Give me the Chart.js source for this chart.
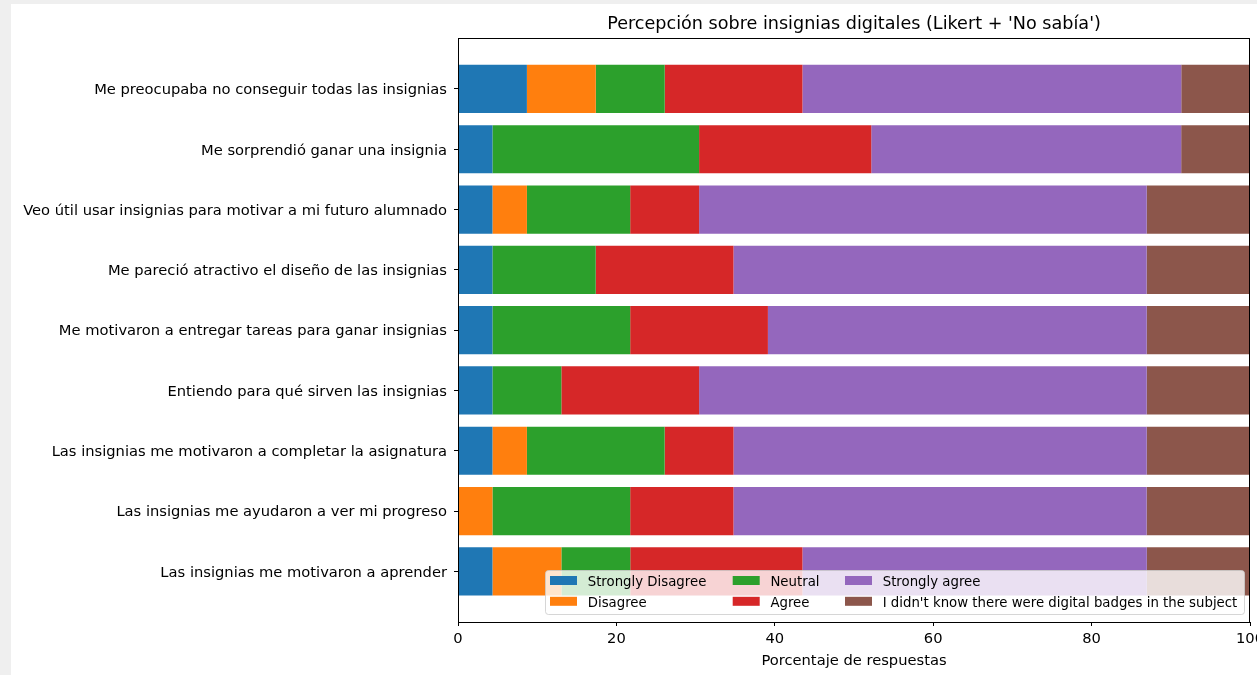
<!DOCTYPE html>
<html>
<head>
<meta charset="utf-8">
<script src="https://cdn.jsdelivr.net/npm/chart.js@4/dist/chart.umd.min.js"></script>
<style>
  html, body { margin: 0; padding: 0; background: #efefef; overflow: hidden; }
  #wrap { position: absolute; left: 11px; top: 4px; width: 1246px; height: 671px; background: #fff; }
</style>
</head>
<body>
<div id="wrap"><canvas id="chart" width="1246" height="671"></canvas></div>
<script>
// Statements (top to bottom)
const statements = [
    "Me preocupaba no conseguir todas las insignias",
    "Me sorprendió ganar una insignia",
    "Veo útil usar insignias para motivar a mi futuro alumnado",
    "Me pareció atractivo el diseño de las insignias",
    "Me motivaron a entregar tareas para ganar insignias",
    "Entiendo para qué sirven las insignias",
    "Las insignias me motivaron a completar la asignatura",
    "Las insignias me ayudaron a ver mi progreso",
    "Las insignias me motivaron a aprender"
];

// Percentage of answers per response, same order as statements
const stronglyDisagree = [8.70, 4.35, 4.35, 4.35, 4.35, 4.35, 4.35, 0, 4.35];
const disagree         = [8.70, 0, 4.35, 0, 0, 0, 4.35, 4.35, 8.70];
const neutral          = [8.70, 26.09, 13.04, 13.04, 17.39, 8.70, 17.39, 17.39, 8.70];
const agree            = [17.39, 21.74, 8.70, 17.39, 17.39, 17.39, 8.70, 13.04, 21.74];
const stronglyAgree    = [47.83, 39.13, 56.52, 52.17, 47.83, 56.52, 52.17, 52.17, 43.48];
const didntKnow        = [8.70, 8.70, 13.04, 13.04, 13.04, 13.04, 13.04, 13.04, 13.04];

const seriesNames = ["Strongly Disagree", "Disagree", "Neutral", "Agree", "Strongly agree",
    "I didn't know there were digital badges in the subject"];
const seriesValues = [stronglyDisagree, disagree, neutral, agree, stronglyAgree, didntKnow];
const colors = ["#1f77b4", "#ff7f0e", "#2ca02c", "#d62728", "#9467bd", "#8c564b"];
const xTicks = [0, 20, 40, 60, 80, 100];

const FONT = "'DejaVu Sans', sans-serif";

// title, frame, x label and matplotlib style legend
const decorations = {
    id: "decorations",
    afterDraw(chart) {
        const { ctx, chartArea: a } = chart;
        ctx.save();
        // frame
        ctx.strokeStyle = "#000";
        ctx.lineWidth = 1;
        ctx.strokeRect(Math.round(a.left) + 0.5, Math.round(a.top) + 0.5,
            Math.round(a.right - a.left) - 1, Math.round(a.bottom - a.top));

        ctx.fillStyle = "#000";
        ctx.textAlign = "center";
        ctx.textBaseline = "middle";
        ctx.font = "17.6px " + FONT;
        ctx.fillText("Percepción sobre insignias digitales (Likert + 'No sabía')", (a.left + a.right) / 2, 20.5);
        ctx.font = "14.7px " + FONT;
        ctx.fillText("Porcentaje de respuestas", (a.left + a.right) / 2, 657);

        // legend
        const bx = 534, by = 566, bw = 699, bh = 44;
        ctx.beginPath();
        ctx.roundRect(bx + 0.5, by + 0.5, bw, bh, 3);
        ctx.fillStyle = "rgba(255,255,255,0.8)";
        ctx.fill();
        ctx.strokeStyle = "rgba(204,204,204,0.8)";
        ctx.stroke();

        const colX = [539, 721.7, 834];
        const rowY = [576.5, 597.3];
        ctx.font = "13.3px " + FONT;
        ctx.textAlign = "left";
        seriesNames.forEach((name, i) => {
            const c = Math.floor(i / 2), r = i % 2;
            ctx.fillStyle = colors[i];
            ctx.fillRect(colX[c], rowY[r] - 4.5, 27, 9);
            ctx.fillStyle = "#000";
            ctx.fillText(name, colX[c] + 37.7, rowY[r] + 1.8);
        });
        ctx.restore();
    }
};

const ctx = document.getElementById("chart").getContext("2d");
new Chart(ctx, {
    type: "bar",
    data: {
        datasets: seriesNames.map((name, i) => ({
            label: name,
            data: seriesValues[i].map((v, j) => ({ x: v, y: j })),
            backgroundColor: colors[i],
            borderWidth: 0,
            categoryPercentage: 1,
            barPercentage: 0.8
        }))
    },
    options: {
        indexAxis: "y",
        responsive: false,
        animation: false,
        layout: { padding: { top: 34.3, right: 7, left: 0, bottom: 0 } },
        plugins: {
            legend: { display: false },
            tooltip: { enabled: false }
        },
        scales: {
            x: {
                type: "linear",
                stacked: true,
                min: 0,
                max: 100,
                afterBuildTicks: (axis) => { axis.ticks = xTicks.map(v => ({ value: v })); },
                afterFit: (scale) => { scale.paddingRight = 0; scale.paddingLeft = 0; scale.height = 53; },
                grid: { drawOnChartArea: false, color: "#000", tickLength: 4 },
                border: { display: false },
                ticks: { color: "#000", font: { family: FONT, size: 14.7 }, padding: 4, maxRotation: 0 }
            },
            y: {
                type: "linear",
                stacked: true,
                reverse: true,
                offset: false,
                min: -0.84,
                max: 8.84,
                afterBuildTicks: (axis) => { axis.ticks = statements.map((s, i) => ({ value: i })); },
                afterFit: (scale) => { scale.width = 447; scale.paddingTop = 0; scale.paddingBottom = 0; },
                grid: { offset: false, drawOnChartArea: false, color: "#000", tickLength: 4 },
                border: { display: false },
                ticks: {
                    color: "#000",
                    font: { family: FONT, size: 14.7 },
                    padding: 7,
                    labelOffset: 1.5,
                    autoSkip: false,
                    callback: (v) => statements[v]
                }
            }
        }
    },
    plugins: [decorations]
});
</script>
</body>
</html>
